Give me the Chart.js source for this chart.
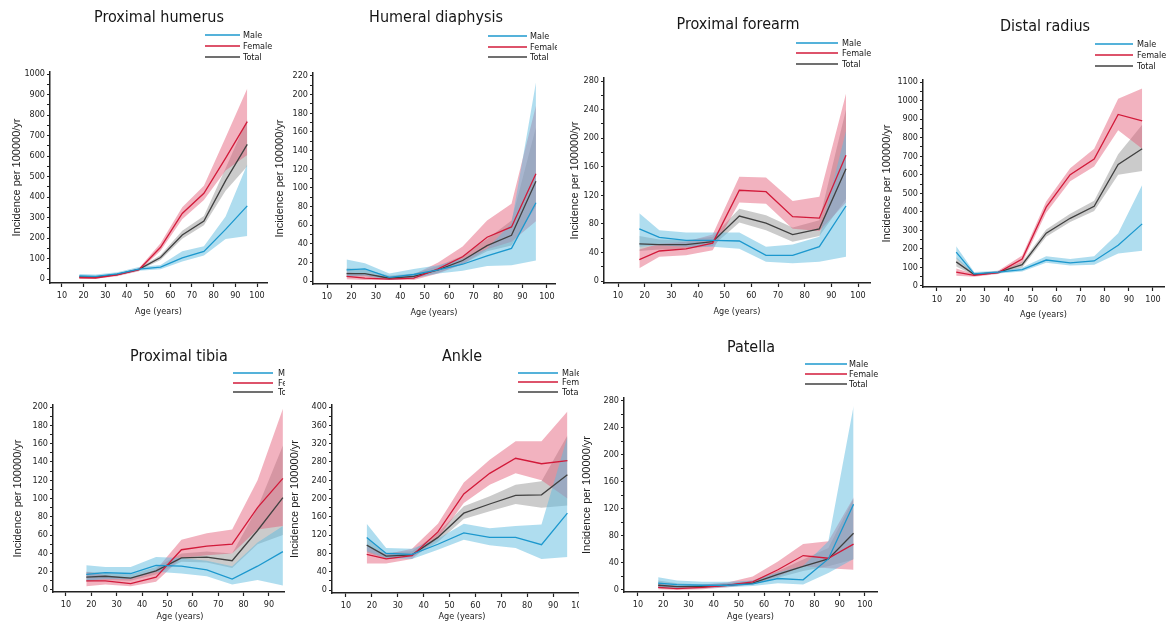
<!DOCTYPE html>
<html>
<head>
<meta charset="utf-8">
<script src="https://cdn.jsdelivr.net/npm/chart.js@4.4.1/dist/chart.umd.min.js"></script>
<style>
  body { margin: 0; background: #fff; }
  #page { position: relative; width: 1173px; height: 626px; overflow: hidden; background: #fff; }
  .panel { position: absolute; overflow: hidden; }
</style>
</head>
<body>
<div id="page"></div>
<script>
// age group midpoints and axis ticks
const ages = [18, 25.5, 35.5, 45.5, 55.5, 65.5, 75.5, 85.5, 95.5];
const ageTicks = [10, 20, 30, 40, 50, 60, 70, 80, 90, 100];
const seriesNames = ['Male', 'Female', 'Total'];

// Proximal humerus
const humerusTicks = [0, 100, 200, 300, 400, 500, 600, 700, 800, 900, 1000];
const humerusMale = [15, 13, 25, 48, 58, 103, 135, 242, 357];
const humerusMaleLo = [8, 7, 18, 40, 47, 85, 115, 195, 210];
const humerusMaleHi = [25, 22, 33, 58, 68, 135, 160, 305, 560];
const humerusFemale = [6, 5, 20, 45, 155, 320, 418, 590, 768];
const humerusFemaleLo = [2, 1, 14, 38, 138, 292, 385, 530, 605];
const humerusFemaleHi = [12, 10, 27, 53, 175, 350, 455, 690, 930];
const humerusTotal = [10, 9, 22, 47, 105, 215, 283, 480, 657];
const humerusTotalLo = [6, 5, 18, 42, 93, 197, 262, 430, 550];
const humerusTotalHi = [15, 13, 27, 53, 117, 235, 308, 540, 780];

// Humeral diaphysis
const diaphysisTicks = [0, 20, 40, 60, 80, 100, 120, 140, 160, 180, 200, 220];
const diaphysisMale = [12, 13, 4, 7, 12, 18, 27, 35, 84];
const diaphysisMaleLo = [5, 6, 1, 3, 8, 11, 16, 17, 22];
const diaphysisMaleHi = [23, 19, 8, 13, 17, 24, 35, 62, 213];
const diaphysisFemale = [5, 3, 2, 3, 13, 26, 47, 58, 115];
const diaphysisFemaleLo = [2, 1, 1, 1, 8, 18, 34, 42, 64];
const diaphysisFemaleHi = [10, 7, 5, 7, 20, 37, 65, 83, 188];
const diaphysisTotal = [8, 8, 3, 5, 12, 22, 38, 49, 107];
const diaphysisTotalLo = [4, 5, 2, 3, 9, 18, 32, 38, 80];
const diaphysisTotalHi = [14, 12, 6, 8, 16, 27, 45, 65, 165];

// Proximal forearm
const forearmTicks = [0, 40, 80, 120, 160, 200, 240, 280];
const forearmMale = [73, 61, 57, 57, 56, 36, 36, 48, 105];
const forearmMaleLo = [48, 50, 48, 48, 45, 27, 25, 27, 34];
const forearmMaleHi = [95, 71, 68, 68, 68, 48, 51, 62, 210];
const forearmFemale = [30, 42, 45, 53, 127, 125, 90, 88, 176];
const forearmFemaleLo = [18, 34, 36, 43, 110, 108, 73, 70, 110];
const forearmFemaleHi = [44, 52, 55, 65, 146, 145, 112, 118, 262];
const forearmTotal = [52, 51, 51, 55, 91, 81, 65, 73, 157];
const forearmTotalLo = [42, 44, 45, 49, 82, 71, 55, 63, 115];
const forearmTotalHi = [63, 58, 57, 62, 101, 92, 75, 85, 240];

// Distal radius
const radiusTicks = [0, 100, 200, 300, 400, 500, 600, 700, 800, 900, 1000, 1100];
const radiusMale = [183, 65, 75, 88, 140, 125, 135, 220, 335];
const radiusMaleLo = [150, 58, 68, 78, 125, 110, 115, 175, 190];
const radiusMaleHi = [215, 75, 82, 100, 160, 145, 160, 285, 545];
const radiusFemale = [75, 57, 72, 145, 425, 600, 685, 925, 890];
const radiusFemaleLo = [55, 50, 65, 125, 395, 565, 645, 840, 740];
const radiusFemaleHi = [95, 65, 82, 165, 455, 635, 740, 1010, 1065];
const radiusTotal = [130, 62, 73, 115, 285, 365, 430, 655, 740];
const radiusTotalLo = [105, 56, 68, 100, 265, 345, 405, 600, 620];
const radiusTotalHi = [155, 70, 80, 130, 305, 390, 460, 710, 870];

// Proximal tibia
const tibiaTicks = [0, 20, 40, 60, 80, 100, 120, 140, 160, 180, 200];
const tibiaMale = [17, 19, 18, 27, 26, 22, 12, 26, 42];
const tibiaMaleLo = [10, 12, 12, 20, 18, 15, 6, 11, 5];
const tibiaMaleHi = [27, 25, 25, 36, 35, 32, 26, 52, 70];
const tibiaFemale = [10, 10, 7, 14, 44, 48, 50, 90, 122];
const tibiaFemaleLo = [4, 6, 4, 9, 35, 38, 40, 66, 70];
const tibiaFemaleHi = [20, 16, 13, 22, 55, 62, 66, 120, 198];
const tibiaTotal = [14, 15, 13, 21, 35, 36, 32, 65, 101];
const tibiaTotalLo = [9, 11, 10, 17, 31, 30, 24, 50, 60];
const tibiaTotalHi = [20, 19, 17, 25, 40, 42, 40, 90, 158];

// Ankle
const ankleTicks = [0, 40, 80, 120, 160, 200, 240, 280, 320, 360, 400];
const ankleMale = [115, 80, 78, 100, 125, 115, 115, 99, 168];
const ankleMaleLo = [85, 70, 68, 88, 110, 98, 92, 68, 72];
const ankleMaleHi = [145, 92, 90, 112, 145, 135, 140, 143, 335];
const ankleFemale = [78, 68, 75, 127, 210, 255, 288, 276, 283];
const ankleFemaleLo = [58, 58, 68, 113, 190, 230, 255, 240, 200];
const ankleFemaleHi = [95, 78, 90, 145, 235, 285, 325, 325, 390];
const ankleTotal = [98, 74, 77, 115, 168, 188, 207, 208, 252];
const ankleTotalLo = [82, 68, 72, 105, 155, 172, 188, 180, 185];
const ankleTotalHi = [115, 82, 85, 125, 183, 205, 230, 238, 338];

// Patella
const patellaTicks = [0, 40, 80, 120, 160, 200, 240, 280];
const patellaMale = [10, 8, 7, 7, 9, 17, 15, 46, 127];
const patellaMaleLo = [3, 3, 3, 4, 6, 10, 8, 25, 46];
const patellaMaleHi = [19, 14, 12, 12, 14, 26, 36, 72, 272];
const patellaFemale = [4, 2, 4, 7, 12, 30, 51, 47, 68];
const patellaFemaleLo = [1, 0, 1, 4, 8, 20, 35, 32, 30];
const patellaFemaleHi = [10, 6, 8, 11, 20, 42, 68, 72, 137];
const patellaTotal = [7, 5, 5, 7, 10, 23, 35, 46, 84];
const patellaTotalLo = [2, 2, 2, 5, 8, 18, 28, 35, 45];
const patellaTotalHi = [14, 10, 8, 10, 14, 28, 45, 62, 135];

const narrow = '"Liberation Sans Narrow", "Arial Narrow", "DejaVu Sans Condensed", sans-serif';
const regular = '"Liberation Sans", Arial, sans-serif';
const lineColors = ['rgb(28,152,206)', 'rgb(210,26,58)', 'rgb(64,64,64)'];
const bandColors = ['rgba(95,188,224,0.5)', 'rgba(228,92,118,0.47)', 'rgba(140,140,140,0.45)'];

const panels = [
    { title: 'Proximal humerus', ticks: humerusTicks,
      series: [[humerusMale, humerusMaleLo, humerusMaleHi], [humerusFemale, humerusFemaleLo, humerusFemaleHi], [humerusTotal, humerusTotalLo, humerusTotalHi]],
      box: { left: 0, top: 0, width: 272, height: 326 }, plot: { l: 50, t: 72, r: 267, b: 283 },
      x: [4.5, 104.6], y: [-19.5, 1010], titleXY: [159, 18], yTitleX: 17, xTitleY: 312,
      legend: { x1: 205, x2: 240, tx: 243, rows: [35, 46, 57] } },
    { title: 'Humeral diaphysis', ticks: diaphysisTicks,
      series: [[diaphysisMale, diaphysisMaleLo, diaphysisMaleHi], [diaphysisFemale, diaphysisFemaleLo, diaphysisFemaleHi], [diaphysisTotal, diaphysisTotalLo, diaphysisTotalHi]],
      box: { left: 272, top: 0, width: 285, height: 326 }, plot: { l: 313, t: 73, r: 555, b: 284 },
      x: [4.27, 103.3], y: [-3.2, 223.2], titleXY: [436, 18], yTitleX: 280, xTitleY: 313,
      legend: { x1: 488, x2: 527, tx: 530, rows: [36, 47, 57] } },
    { title: 'Proximal forearm', ticks: forearmTicks,
      series: [[forearmMale, forearmMaleLo, forearmMaleHi], [forearmFemale, forearmFemaleLo, forearmFemaleHi], [forearmTotal, forearmTotalLo, forearmTotalHi]],
      box: { left: 557, top: 0, width: 321, height: 326 }, plot: { l: 604, t: 78, r: 870, b: 283 },
      x: [4.75, 104.5], y: [-2.8, 284.2], titleXY: [738, 25], yTitleX: 575, xTitleY: 312,
      legend: { x1: 796, x2: 838, tx: 842, rows: [43, 53, 64] } },
    { title: 'Distal radius', ticks: radiusTicks,
      series: [[radiusMale, radiusMaleLo, radiusMaleHi], [radiusFemale, radiusFemaleLo, radiusFemaleHi], [radiusTotal, radiusTotalLo, radiusTotalHi]],
      box: { left: 878, top: 0, width: 295, height: 326 }, plot: { l: 923, t: 80, r: 1164, b: 287 },
      x: [4.17, 104.6], y: [-5.4, 1110.8], titleXY: [1045, 27], yTitleX: 887, xTitleY: 315,
      legend: { x1: 1095, x2: 1133, tx: 1137, rows: [44, 55, 66] } },
    { title: 'Proximal tibia', ticks: tibiaTicks,
      series: [[tibiaMale, tibiaMaleLo, tibiaMaleHi], [tibiaFemale, tibiaFemaleLo, tibiaFemaleHi], [tibiaTotal, tibiaTotalLo, tibiaTotalHi]],
      box: { left: 0, top: 330, width: 285, height: 296 }, plot: { l: 53, t: 405, r: 307, b: 592 },
      x: [4.88, 105], y: [-2.2, 202.2], titleXY: [179, 357], yTitleX: 18, xTitleY: 617,
      legend: { x1: 233, x2: 273, tx: 278, rows: [373, 383, 392] } },
    { title: 'Ankle', ticks: ankleTicks,
      series: [[ankleMale, ankleMaleLo, ankleMaleHi], [ankleFemale, ankleFemaleLo, ankleFemaleHi], [ankleTotal, ankleTotalLo, ankleTotalHi]],
      box: { left: 285, top: 330, width: 294, height: 296 }, plot: { l: 332, t: 405, r: 592, b: 593 },
      x: [4.6, 105], y: [-6.5, 404.4], titleXY: [462, 357], yTitleX: 295, xTitleY: 617,
      legend: { x1: 518, x2: 558, tx: 562, rows: [373, 382, 392] } },
    { title: 'Patella', ticks: patellaTicks,
      series: [[patellaMale, patellaMaleLo, patellaMaleHi], [patellaFemale, patellaFemaleLo, patellaFemaleHi], [patellaTotal, patellaTotalLo, patellaTotalHi]],
      box: { left: 579, top: 330, width: 311, height: 296 }, plot: { l: 624, t: 398, r: 877, b: 592 },
      x: [4.45, 104.8], y: [-3, 284.4], titleXY: [751, 348], yTitleX: 587, xTitleY: 617,
      legend: { x1: 805, x2: 847, tx: 849, rows: [364, 374, 384] } }
];

// title + line legend drawn above the plot
const panelText = {
    id: 'panelText',
    afterDraw(chart, args, opts) {
        const ctx = chart.ctx;
        ctx.save();
        ctx.fillStyle = '#161616';
        ctx.textBaseline = 'middle';
        ctx.font = '16px ' + narrow;
        ctx.textAlign = 'center';
        ctx.fillText(opts.title, opts.titleX, opts.titleY);
        ctx.font = '9px ' + narrow;
        ctx.textAlign = 'left';
        for (let i = 0; i < 3; i++) {
            const ds = chart.data.datasets[i];
            const y = opts.rows[i];
            ctx.strokeStyle = ds.borderColor;
            ctx.lineWidth = 1.5;
            ctx.beginPath();
            ctx.moveTo(opts.x1, y);
            ctx.lineTo(opts.x2, y);
            ctx.stroke();
            ctx.fillText(ds.label, opts.tx, y + 0.5);
        }
        ctx.restore();
    }
};

const toPoints = arr => arr.map((v, i) => ({ x: ages[i], y: v }));

const page = document.getElementById('page');

panels.forEach((p) => {
    const div = document.createElement('div');
    div.className = 'panel';
    div.style.left = p.box.left + 'px';
    div.style.top = p.box.top + 'px';
    div.style.width = p.box.width + 'px';
    div.style.height = p.box.height + 'px';
    const canvas = document.createElement('canvas');
    const cw = Math.max(p.box.width, p.plot.r - p.box.left + 4);
    const ch = p.box.height;
    canvas.width = cw;
    canvas.height = ch;
    canvas.style.width = cw + 'px';
    canvas.style.height = ch + 'px';
    div.appendChild(canvas);
    page.appendChild(div);

    const lines = p.series.map((s, i) => ({
        label: seriesNames[i],
        data: toPoints(s[0]),
        borderColor: lineColors[i],
        borderWidth: 1.3,
        pointRadius: 0,
        fill: false,
        tension: 0
    }));
    const bands = [];
    p.series.forEach((s, i) => {
        bands.push({ label: seriesNames[i] + ' low', data: toPoints(s[1]), borderWidth: 0, pointRadius: 0, fill: false });
        bands.push({ label: seriesNames[i] + ' high', data: toPoints(s[2]), borderWidth: 0, pointRadius: 0,
            fill: '-1', backgroundColor: bandColors[i] });
    });

    const yMinor = [];
    for (let i = 0; i < p.ticks.length - 1; i++) {
        yMinor.push((p.ticks[i] + p.ticks[i + 1]) / 2);
    }
    const yAll = p.ticks.concat(yMinor).sort((a, b) => a - b);

    const lh = 11 * 1.2;
    const xlh = 9 * 1.2;

    const chart = new Chart(canvas, { // eslint-disable-line
        type: 'line',
        data: { datasets: lines.concat(bands) },
        plugins: [panelText],
        options: {
            responsive: false,
            animation: false,
            devicePixelRatio: 1,
            layout: {
                autoPadding: false,
                padding: { left: 0, top: p.plot.t - p.box.top, right: cw - (p.plot.r - p.box.left), bottom: 0 }
            },
            plugins: {
                legend: { display: false },
                tooltip: { enabled: false },
                panelText: {
                    title: p.title,
                    titleX: p.titleXY[0] - p.box.left,
                    titleY: p.titleXY[1] - p.box.top,
                    x1: p.legend.x1 - p.box.left,
                    x2: p.legend.x2 - p.box.left,
                    tx: p.legend.tx - p.box.left,
                    rows: p.legend.rows.map(r => r - p.box.top)
                }
            },
            scales: {
                x: {
                    type: 'linear',
                    min: p.x[0],
                    max: p.x[1],
                    afterBuildTicks: (scale) => { scale.ticks = ageTicks.map(v => ({ value: v })); },
                    afterFit: (scale) => { scale.height = p.box.top + p.box.height - p.plot.b; },
                    grid: { drawOnChartArea: false, tickLength: 4, tickColor: '#222', tickWidth: 1.2 },
                    border: { color: '#222', width: 1.5 },
                    ticks: { autoSkip: false, maxRotation: 0, padding: 3, color: '#222', font: { family: narrow, size: 9 } },
                    title: {
                        display: true, text: 'Age (years)', color: '#222',
                        font: { family: narrow, size: 9 },
                        padding: { top: 0, bottom: Math.max(0, p.box.top + p.box.height - p.xTitleY - xlh / 2) }
                    }
                },
                y: {
                    min: p.y[0],
                    max: p.y[1],
                    afterBuildTicks: (scale) => { scale.ticks = yAll.map(v => ({ value: v })); },
                    afterFit: (scale) => { scale.width = p.plot.l - p.box.left; },
                    grid: { drawOnChartArea: false, tickLength: 3, tickColor: '#222', tickWidth: 1.2 },
                    border: { color: '#222', width: 1.5 },
                    ticks: {
                        autoSkip: false, padding: 2, color: '#222', font: { family: narrow, size: 9 },
                        callback: v => (p.ticks.includes(v) ? v : '')
                    },
                    title: {
                        display: true, text: 'Incidence per 100000/yr', color: '#222',
                        font: { family: regular, size: 11 },
                        padding: { top: Math.max(0, p.yTitleX - p.box.left - lh / 2), bottom: 0 }
                    }
                }
            }
        }
    });
});
</script>
</body>
</html>
